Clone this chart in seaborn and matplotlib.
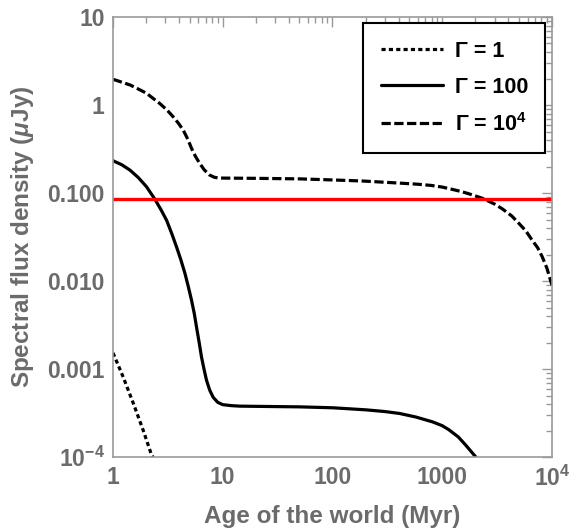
import pandas as pd
import seaborn as sns
import matplotlib.pyplot as plt
from matplotlib import ticker

# Valeurs (age en Myr, flux en microJy)
age_g1 = [1, 1.24, 1.53, 1.89, 2.25, 2.32]
flux_g1 = [1.53e-3, 8.1e-4, 4.1e-4, 2.0e-4, 1.05e-4, 1.0e-4]

age_g100 = [1, 1.2, 1.43, 1.7, 2.02, 2.41, 2.75, 3.08, 3.45, 3.79, 4.15, 4.52, 4.85,
            5.19, 5.5, 5.77, 6.1, 6.40, 6.75, 7.11, 7.6, 8.17, 9.0, 10, 12, 14.3,
            20, 50, 101, 202, 300, 407, 575, 815, 1000, 1150, 1400, 1630, 2030]
flux_g100 = [0.233, 0.21, 0.182, 0.15, 0.118, 0.085, 0.064, 0.049, 0.034, 0.0245,
             0.0175, 0.0123, 0.0087, 0.0061, 0.0043, 0.0030, 0.0020, 1.38e-3,
             1.0e-3, 7.5e-4, 5.8e-4, 4.8e-4, 4.2e-4, 3.95e-4, 3.85e-4, 3.8e-4,
             3.78e-4, 3.73e-4, 3.64e-4, 3.45e-4, 3.3e-4, 3.14e-4, 2.86e-4, 2.52e-4,
             2.28e-4, 2.05e-4, 1.7e-4, 1.38e-4, 1.0e-4]

age_g1e4 = [1, 1.2, 1.43, 1.7, 2.02, 2.3, 2.67, 3.1, 3.53, 3.95, 4.36, 4.8, 5.19,
            5.65, 6.17, 6.8, 7.6, 8.4, 9.3, 10, 20, 50, 100, 190, 400, 600, 800,
            1000, 1240, 1500, 1800, 2340, 3000, 3540, 4300, 5020, 5800, 6620, 7400,
            8140, 9000, 10000]
flux_g1e4 = [1.96, 1.82, 1.69, 1.52, 1.36, 1.2, 1.04, 0.88, 0.736, 0.62, 0.52,
             0.41, 0.323, 0.26, 0.217, 0.183, 0.160, 0.151, 0.148, 0.148, 0.147,
             0.145, 0.141, 0.137, 0.130, 0.126, 0.122, 0.117, 0.110, 0.104, 0.097,
             0.087, 0.075, 0.066, 0.055, 0.045, 0.037, 0.029, 0.024, 0.019, 0.014,
             0.009]

seuil = 0.085  # ligne rouge

x_ticks = [1, 10, 100, 1000, 10000]
x_labels = ['1', '10', '100', '1000', r'$10^4$']
y_ticks = [1e-4, 1e-3, 1e-2, 0.1, 1, 10]
y_labels = [r'$10^{-4}$', '0.001', '0.010', '0.100', '1', '10']
labels = ['Γ = 1', 'Γ = 100', r'Γ = $10^4$']

gris = '#6b6b6b'
gris_axe = '#999999'

sns.set_theme(style="white")
plt.rcParams['font.family'] = ['Liberation Sans', 'DejaVu Sans']
plt.rcParams['font.weight'] = 'bold'
plt.rcParams['mathtext.fontset'] = 'custom'
plt.rcParams['mathtext.rm'] = 'Liberation Sans:bold'
plt.rcParams['mathtext.bf'] = 'Liberation Sans:bold'
plt.rcParams['mathtext.it'] = 'Liberation Sans:bold:italic'
plt.rcParams['mathtext.default'] = 'rm'

fig = plt.figure(figsize=(5.81, 5.31), dpi=100)
ax = fig.add_axes([0.1945, 0.139, 0.7555, 0.829])

df1 = pd.DataFrame({'age': age_g1, 'flux': flux_g1})
df2 = pd.DataFrame({'age': age_g100, 'flux': flux_g100})
df3 = pd.DataFrame({'age': age_g1e4, 'flux': flux_g1e4})

sns.lineplot(data=df1, x='age', y='flux', ax=ax, color='black', lw=2.3,
             sort=False, estimator=None, label=labels[0])
sns.lineplot(data=df2, x='age', y='flux', ax=ax, color='black', lw=2.3,
             sort=False, estimator=None, label=labels[1])
sns.lineplot(data=df3, x='age', y='flux', ax=ax, color='black', lw=2.3,
             sort=False, estimator=None, label=labels[2])
ax.lines[0].set_dashes((1.3, 1.0))
ax.lines[2].set_dashes((2.9, 1.1))
ax.axhline(seuil, color='red', lw=2.4)

ax.set_xscale('log')
ax.set_yscale('log')
ax.set_xlim(1, 1e4)
ax.set_ylim(1e-4, 10)

ax.xaxis.set_major_locator(ticker.FixedLocator(x_ticks))
ax.xaxis.set_major_formatter(ticker.FixedFormatter(x_labels))
ax.yaxis.set_major_locator(ticker.FixedLocator(y_ticks))
ax.yaxis.set_major_formatter(ticker.FixedFormatter(y_labels))
ax.xaxis.set_minor_locator(ticker.LogLocator(base=10, subs=range(2, 10), numticks=20))
ax.yaxis.set_minor_locator(ticker.LogLocator(base=10, subs=range(2, 10), numticks=20))
ax.xaxis.set_minor_formatter(ticker.NullFormatter())
ax.yaxis.set_minor_formatter(ticker.NullFormatter())

ax.tick_params(which='both', direction='in', top=True, right=True,
               color=gris_axe, labelcolor=gris, labelsize=16.5, width=1)
ax.tick_params(which='major', length=7, pad=6)
ax.tick_params(which='minor', length=4)
for s in ax.spines.values():
    s.set_color(gris_axe)
    s.set_linewidth(1.2)

ax.set_xlabel("Age of the world (Myr)", fontsize=17.5, color=gris, fontweight='bold', labelpad=10)
ax.set_ylabel(r"Spectral flux density ($\mathit{\mu}$Jy)", fontsize=17.5, color=gris,
              fontweight='bold', labelpad=8)

leg = ax.legend(loc='upper right', fontsize=15.5, frameon=True, fancybox=False,
                edgecolor='black', framealpha=1, handlelength=2.9, handletextpad=0.55,
                borderpad=0.8, labelspacing=0.7, borderaxespad=0.3)
leg.get_frame().set_linewidth(1.5)
for t in leg.get_texts():
    t.set_color('black')
    t.set_fontweight('bold')

plt.savefig("out.png", dpi=100)
